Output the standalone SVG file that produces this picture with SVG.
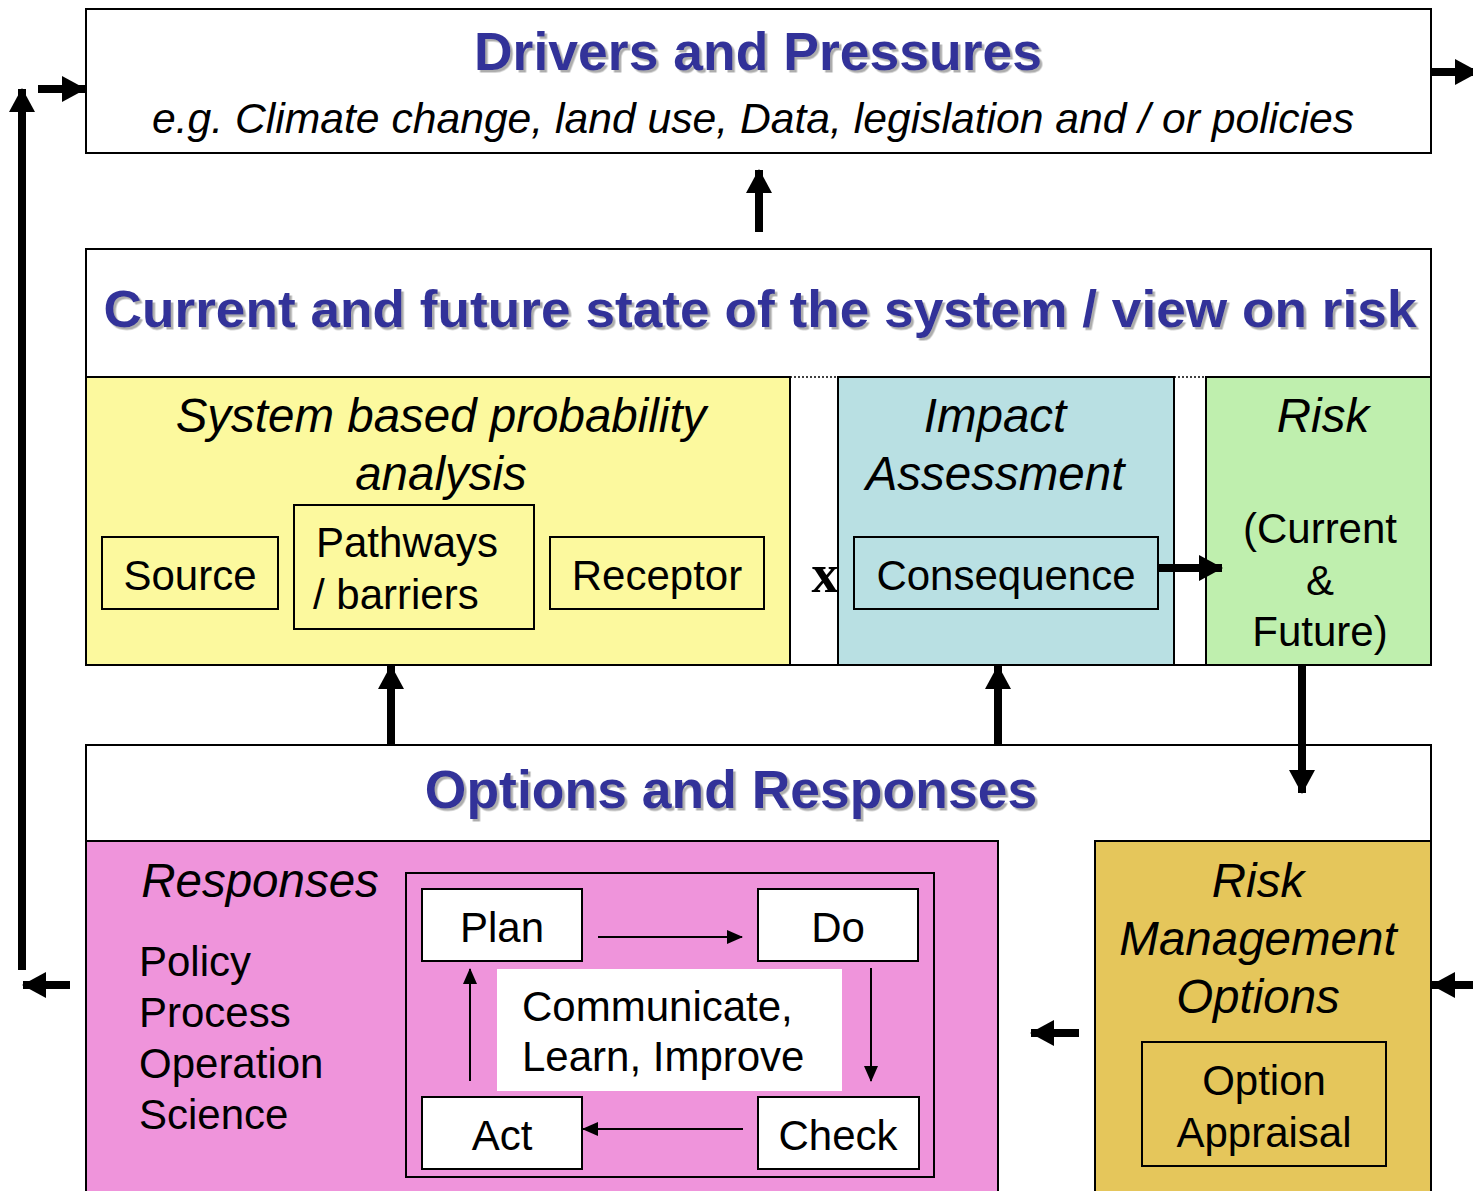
<svg xmlns="http://www.w3.org/2000/svg" width="1473" height="1191" viewBox="0 0 1473 1191">
<style>
.box{stroke:#000;stroke-width:2}
.title{font-family:"Liberation Sans",Arial,sans-serif;font-weight:bold;fill:#333399;text-anchor:middle;filter:url(#sh)}
.t{font-family:"Liberation Sans",Arial,sans-serif;font-size:42px;fill:#000}
.it{font-family:"Liberation Sans",Arial,sans-serif;font-style:italic;font-size:47.5px;fill:#000;text-anchor:middle}
.c{text-anchor:middle}
.thick{stroke:#000;stroke-width:8;fill:none}
.thin{stroke:#000;stroke-width:2;fill:none}
.dot{stroke:#000;stroke-width:1.5;stroke-dasharray:2 2}
</style>
<defs>
<filter id="sh" x="-5%" y="-20%" width="110%" height="150%">
<feDropShadow dx="2.5" dy="2.5" stdDeviation="0.6" flood-color="#999999" flood-opacity="0.8"/>
</filter>
<marker id="ah" markerUnits="userSpaceOnUse" viewBox="0 0 24 26" markerWidth="24" markerHeight="26" refX="23" refY="13" orient="auto">
<path d="M0,0 L24,13 L0,26 Z" fill="#000"/>
</marker>
<marker id="ahs" markerUnits="userSpaceOnUse" viewBox="0 0 16 14" markerWidth="16" markerHeight="14" refX="15" refY="7" orient="auto">
<path d="M0,0 L16,7 L0,14 Z" fill="#000"/>
</marker>
</defs>
<rect width="1473" height="1191" fill="#fff"/>

<g id="drivers">
<rect class="box" x="86" y="9" width="1345" height="144" fill="#fff"/>
<text class="title" x="758" y="70" font-size="53.5">Drivers and Pressures</text>
<text class="t" x="152" y="133" font-size="40" font-style="italic" textLength="1202" lengthAdjust="spacingAndGlyphs">e.g. Climate change, land use, Data, legislation and / or policies</text>
</g>

<g id="state">
<rect class="box" x="86" y="249" width="1345" height="416" fill="#fff"/>
<text class="title" x="760" y="327" font-size="52" textLength="1313" lengthAdjust="spacingAndGlyphs">Current and future state of the system / view on risk</text>
<line class="dot" x1="790" y1="377" x2="838" y2="377"/>
<line class="dot" x1="1174" y1="377" x2="1206" y2="377"/>
<line class="dot" x1="790" y1="665" x2="838" y2="665"/>
<line class="dot" x1="1174" y1="665" x2="1206" y2="665"/>
</g>

<g id="probability">
<rect class="box" x="86" y="377" width="704" height="288" fill="#FCF99E"/>
<text class="it" x="441" y="432">System based probability</text>
<text class="it" x="441" y="490">analysis</text>
</g>
<g id="source">
<rect class="box" x="102" y="537" width="176" height="72" fill="none"/>
<text class="t c" x="190" y="590">Source</text>
</g>
<g id="pathways">
<rect class="box" x="294" y="505" width="240" height="124" fill="none"/>
<text class="t" x="316" y="557">Pathways</text>
<text class="t" x="313" y="609">/ barriers</text>
</g>
<g id="receptor">
<rect class="box" x="550" y="537" width="214" height="72" fill="none"/>
<text class="t c" x="657" y="590">Receptor</text>
</g>
<g id="times">
<text x="825" y="592" font-family="Liberation Serif,serif" font-weight="bold" font-size="54" text-anchor="middle">x</text>
</g>
<g id="impact">
<rect class="box" x="838" y="377" width="336" height="288" fill="#B9E0E3"/>
<text class="it" x="995" y="432">Impact</text>
<text class="it" x="995" y="490">Assessment</text>
</g>
<g id="consequence">
<rect class="box" x="854" y="537" width="304" height="72" fill="none"/>
<text class="t c" x="1006" y="590">Consequence</text>
</g>
<g id="risk">
<rect class="box" x="1206" y="377" width="225" height="288" fill="#BFEFAE"/>
<text class="it" x="1323" y="432">Risk</text>
<text class="t c" x="1320" y="543">(Current</text>
<text class="t c" x="1320" y="595">&amp;</text>
<text class="t c" x="1320" y="646">Future)</text>
</g>

<g id="options">
<rect class="box" x="86" y="745" width="1345" height="460" fill="#fff"/>
<text class="title" x="731" y="808" font-size="53.5">Options and Responses</text>
</g>
<g id="responses">
<rect class="box" x="86" y="841" width="912" height="364" fill="#EF94DB"/>
<text class="it" x="260" y="897">Responses</text>
<text class="t" x="139" y="976">Policy</text>
<text class="t" x="139" y="1027">Process</text>
<text class="t" x="139" y="1078">Operation</text>
<text class="t" x="139" y="1129">Science</text>
</g>
<g id="pdca">
<rect class="box" x="406" y="873" width="528" height="304" fill="none"/>
</g>
<g id="plan">
<rect class="box" x="422" y="889" width="160" height="72" fill="#fff"/>
<text class="t c" x="502" y="942">Plan</text>
</g>
<g id="do">
<rect class="box" x="758" y="889" width="160" height="72" fill="#fff"/>
<text class="t c" x="838" y="942">Do</text>
</g>
<g id="act">
<rect class="box" x="422" y="1097" width="160" height="72" fill="#fff"/>
<text class="t c" x="502" y="1150">Act</text>
</g>
<g id="check">
<rect class="box" x="758" y="1097" width="161" height="72" fill="#fff"/>
<text class="t c" x="838" y="1150">Check</text>
</g>
<g id="communicate">
<rect x="497" y="969" width="345" height="122" fill="#fff"/>
<text class="t" x="522" y="1021">Communicate,</text>
<text class="t" x="522" y="1071">Learn, Improve</text>
</g>
<g id="rmo">
<rect class="box" x="1095" y="841" width="336" height="364" fill="#E5C65B"/>
<text class="it" x="1258" y="897">Risk</text>
<text class="it" x="1258" y="955">Management</text>
<text class="it" x="1258" y="1013">Options</text>
</g>
<g id="appraisal">
<rect class="box" x="1142" y="1042" width="244" height="124" fill="none"/>
<text class="t c" x="1264" y="1095">Option</text>
<text class="t c" x="1264" y="1147">Appraisal</text>
</g>

<g id="connectors">
<line class="thick" x1="759" y1="232" x2="759" y2="170" marker-end="url(#ah)"/>
<line class="thick" x1="22" y1="970" x2="22" y2="89" marker-end="url(#ah)"/>
<line class="thick" x1="38" y1="89" x2="85" y2="89" marker-end="url(#ah)"/>
<line class="thick" x1="1431" y1="72" x2="1478" y2="72" marker-end="url(#ah)"/>
<line class="thick" x1="1158" y1="568" x2="1222" y2="568" marker-end="url(#ah)"/>
<line class="thick" x1="391" y1="745" x2="391" y2="666" marker-end="url(#ah)"/>
<line class="thick" x1="998" y1="745" x2="998" y2="666" marker-end="url(#ah)"/>
<line class="thick" x1="1302" y1="665" x2="1302" y2="793" marker-end="url(#ah)"/>
<line class="thick" x1="1473" y1="985" x2="1432" y2="985" marker-end="url(#ah)"/>
<line class="thick" x1="1079" y1="1033" x2="1031" y2="1033" marker-end="url(#ah)"/>
<line class="thick" x1="70" y1="985" x2="23" y2="985" marker-end="url(#ah)"/>
<line class="thin" x1="598" y1="937" x2="742" y2="937" marker-end="url(#ahs)"/>
<line class="thin" x1="871" y1="968" x2="871" y2="1081" marker-end="url(#ahs)"/>
<line class="thin" x1="743" y1="1129" x2="583" y2="1129" marker-end="url(#ahs)"/>
<line class="thin" x1="470" y1="1081" x2="470" y2="969" marker-end="url(#ahs)"/>
</g>
</svg>
